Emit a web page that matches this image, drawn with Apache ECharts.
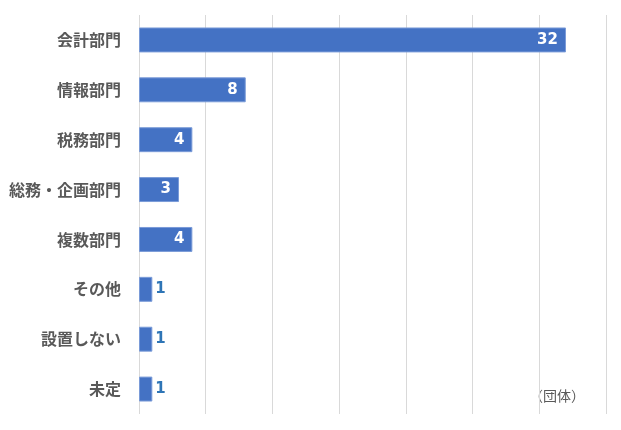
<!DOCTYPE html>
<html><head><meta charset="utf-8">
<script src="https://cdn.jsdelivr.net/npm/echarts@6/dist/echarts.min.js"></script>
<style>html,body{margin:0;padding:0;background:#fff}#c{width:621px;height:430px}</style>
</head><body><div id="c"></div>
<script>
const categories = ['会計部門','情報部門','税務部門','総務・企画部門','複数部門','その他','設置しない','未定'];
const values = [32, 8, 4, 3, 4, 1, 1, 1];
const unitLabel = '（団体）';
const insideThreshold = 3;

const chart = echarts.init(document.getElementById('c'));
const data = values.map(v => ({
  value: v,
  label: v >= insideThreshold
    ? {position: 'insideRight', color: '#ffffff', distance: 8}
    : {position: 'right', color: '#2E75B6', distance: 3}
}));
chart.setOption({
  animation: false,
  grid: {left: 139, right: 15, top: 15, bottom: 16, containLabel: false},
  xAxis: {
    type: 'value', min: 0, max: 35, interval: 5,
    axisLabel: {show: false}, axisLine: {show: false}, axisTick: {show: false},
    splitLine: {show: true, lineStyle: {color: '#d9d9d9', width: 1}}
  },
  yAxis: {
    type: 'category', data: categories, inverse: true,
    axisLine: {show: false}, axisTick: {show: false},
    axisLabel: {margin: 18, color: '#595959', fontSize: 16, fontWeight: 'bold',
      fontFamily: '"Noto Sans CJK JP", sans-serif'}
  },
  series: [{
    type: 'bar', data: data, barWidth: '50%',
    itemStyle: {color: '#4472C4', borderColor: '#7a9bd8', borderWidth: 1},
    label: {show: true, fontSize: 15, fontWeight: 'bold', fontFamily: '"DejaVu Sans", Verdana, sans-serif'}
  }],
  graphic: [{
    type: 'text', left: 529, top: 389,
    style: {text: unitLabel, fill: '#595959', fontSize: 14, fontFamily: '"Noto Sans CJK JP", sans-serif'}
  }]
});
</script></body></html>
